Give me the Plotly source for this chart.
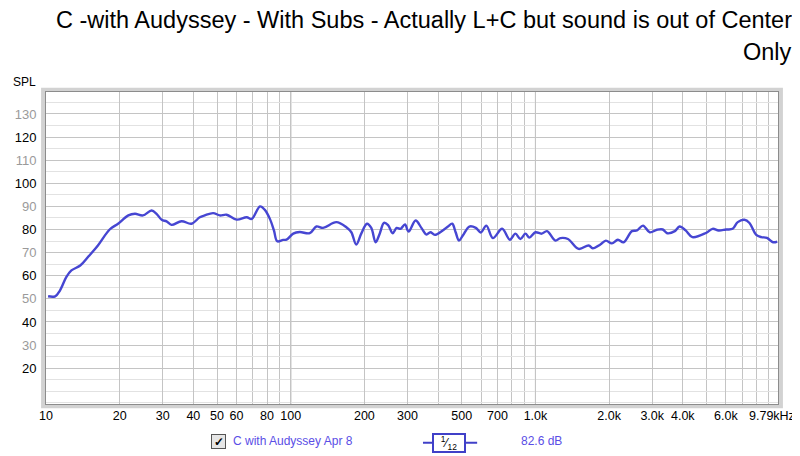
import plotly.graph_objects as go

# Frequency response readings (Hz, dB SPL), 1/12 octave smoothing
freq_hz = [10.2, 10.9, 11.4, 12.1, 12.7, 13.8, 14.9, 16.3, 18.2, 19.7,
           21.7, 23.1, 24.9, 27.0, 28.3, 29.7, 31.1, 32.6, 35.8, 39.3,
           42.5, 44.5, 48.2, 51.3, 54.7, 60.1, 66.1, 69.3, 74.9, 78.4,
           82.2, 85.4, 88.1, 93.1, 96.1, 102.4, 108.8, 119.6, 127.3, 135.6,
           153.6, 168.8, 176.9, 185.3, 194.2, 204.9, 213.4, 222.3, 231, 240.5,
           250, 261, 271, 281, 293, 303, 323.9, 342, 358.6, 372,
           388, 418, 439, 457, 472, 487, 505, 537, 571, 598,
           630, 670, 731, 786, 828, 868, 910, 945, 1000, 1060,
           1115, 1207, 1265, 1358, 1502, 1650, 1714, 1842, 1940, 2052,
           2172, 2291, 2479, 2600, 2752, 2931, 3142, 3314, 3453, 3712,
           3881, 4110, 4380, 4974, 5296, 5606, 6011, 6397, 6709, 7148,
           7494, 7985, 8376, 8832, 9358, 9728]
spl_db = [51.1, 51.1, 53.6, 59.4, 62.3, 64.4, 68.3, 73.1, 80.0, 82.5,
          86.1, 86.8, 86.1, 88.2, 86.8, 84.2, 83.5, 82.0, 83.6, 82.5,
          85.3, 86.1, 87.1, 86.1, 86.4, 84.3, 85.3, 84.6, 90.0, 88.5,
          84.6, 79.6, 74.9, 75.5, 75.6, 78.2, 78.9, 78.4, 81.3, 80.7,
          83.2, 81.0, 78.8, 73.5, 78.2, 82.5, 80.7, 74.5, 78.2, 82.9,
          81.9, 78.4, 80.7, 80.3, 82.2, 79.1, 83.9, 80.7, 77.8, 78.8,
          77.7, 79.6, 81.3, 82.5, 78.8, 75.2, 77.4, 81.3, 80.7, 78.7,
          81.7, 76.3, 80.3, 75.6, 78.2, 75.9, 78.2, 76.5, 78.8, 78.2,
          79.3, 75.2, 76.3, 75.9, 71.6, 73.1, 71.9, 73.5, 75.2, 74.0,
          75.6, 74.5, 79.3, 79.6, 81.7, 78.8, 79.9, 80.0, 78.4, 79.3,
          81.3, 79.6, 76.7, 78.5, 80.3, 79.6, 80.0, 80.3, 83.2, 84.2,
          82.8, 77.7, 76.7, 76.4, 74.5, 74.8]

x_tick_vals = [10, 20, 30, 40, 50, 60, 80, 100, 200, 300, 500, 700,
               1000, 2000, 3000, 4000, 6000]
x_tick_text = ['10', '20', '30', '40', '50', '60', '80', '100', '200', '300',
               '500', '700', '1.0k', '2.0k', '3.0k', '4.0k', '6.0k']
x_end_label = '9.79kHz'
x_minor_vals = [70, 90, 400, 600, 800, 900, 5000, 7000, 8000, 9000]
y_tick_vals = [20, 30, 40, 50, 60, 70, 80, 90, 100, 110, 120, 130]

title_line1 = 'C -with Audyssey - With Subs - Actually L+C but sound is out of Center'
title_line2 = 'Only'
legend_name = 'C with Audyssey Apr 8'
legend_level = '82.6 dB'

curve_color = '#4646d2'
label_color = '#5a4ee6'

y_tick_text = []
for v in y_tick_vals:
    col = '#000000' if v % 20 == 0 else '#9a9a9a'
    y_tick_text.append('<span style="color:%s">%d</span>' % (col, v))

fig = go.Figure()
fig.add_trace(go.Scatter(x=freq_hz, y=spl_db, mode='lines',
                         line=dict(color=curve_color, width=2.4,
                                   shape='spline', smoothing=1.0),
                         showlegend=False, hoverinfo='x+y'))

# darker decade lines
for f in [100, 1000]:
    fig.add_vline(x=f, line=dict(color='#808080', width=1), layer='below')

# soft shadow frame round the plot area
fig.add_shape(type='rect', xref='paper', yref='paper', x0=-0.004, x1=1.004,
              y0=-0.007, y1=1.007, line=dict(color='#d2d2d2', width=4),
              layer='below')

# the page body adds an 8px margin, so the figure is 8px smaller on each side
fig.update_layout(
    width=792, height=448,
    margin=dict(l=38, r=22, t=84, b=52),
    paper_bgcolor='white', plot_bgcolor='white',
    font=dict(family='Liberation Sans, Arial, sans-serif', color='#000000'),
    xaxis=dict(type='log', range=[1, 3.9912], tickmode='array',
               tickvals=x_tick_vals, ticktext=x_tick_text,
               tickfont=dict(size=12.5), ticks='', showgrid=True,
               gridcolor='#c4c4c4', gridwidth=1, zeroline=False,
               showline=True, linecolor='#8c8c8c', linewidth=1, mirror=True,
               minor=dict(tickmode='array', tickvals=x_minor_vals,
                          showgrid=True, gridcolor='#c4c4c4', ticks=''),
               automargin=False, fixedrange=True),
    yaxis=dict(range=[4.5, 139.5], tickmode='array', tickvals=y_tick_vals,
               ticktext=y_tick_text, tickfont=dict(size=13), ticks='',
               ticklabelstandoff=6, showgrid=True, gridcolor='#c4c4c4',
               zeroline=False, showline=True, linecolor='#8c8c8c',
               linewidth=1, mirror=True,
               minor=dict(dtick=5, showgrid=True, gridcolor='#e2e2e2',
                          ticks=''),
               automargin=False, fixedrange=True),
)

# last frequency label sits at the right edge, pulled in a little
fig.add_annotation(text=x_end_label, xref='paper', yref='paper', x=0.9918,
                   y=-0.0385, xanchor='center', yanchor='middle',
                   showarrow=False, font=dict(size=12.5, color='#000000'))

# title (right aligned, two lines)
fig.add_annotation(text=title_line1, xref='paper', yref='paper', x=1.0219,
                   y=1.2308, xanchor='right', yanchor='middle',
                   showarrow=False, font=dict(size=23.5, color='#000000'))
fig.add_annotation(text=title_line2, xref='paper', yref='paper', x=1.0219,
                   y=1.128, xanchor='right', yanchor='middle',
                   showarrow=False, font=dict(size=23.5, color='#000000'))

# axis caption
fig.add_annotation(text='SPL', xref='paper', yref='paper', x=-0.0109,
                   y=1.032, xanchor='right', yanchor='middle',
                   showarrow=False, font=dict(size=12, color='#000000'))

# legend row below the chart
fig.add_annotation(text='<b>✓</b>', xref='paper', yref='paper', x=0.235,
                   y=-0.1186, xanchor='center', yanchor='middle',
                   showarrow=False, font=dict(size=12, color='#000000'),
                   bgcolor='#e6e6e6', bordercolor='#555555', borderwidth=1,
                   borderpad=0, width=13, height=13)
fig.add_annotation(text=legend_name, xref='paper', yref='paper', x=0.2527,
                   y=-0.1186, xanchor='left', yanchor='middle',
                   showarrow=False, font=dict(size=12, color=label_color))
fig.add_shape(type='line', xref='paper', yref='paper', x0=0.515, x1=0.589,
              y0=-0.124, y1=-0.124, line=dict(color='#4040c8', width=2))
fig.add_annotation(text='<sup>1</sup>⁄<sub>12</sub>', xref='paper',
                   yref='paper', x=0.5505, y=-0.124, xanchor='center',
                   yanchor='middle', showarrow=False,
                   font=dict(size=12, color='#000000'), bgcolor='white',
                   bordercolor='#4040c8', borderwidth=2, borderpad=1,
                   width=28, height=14)
fig.add_annotation(text=legend_level, xref='paper', yref='paper', x=0.646,
                   y=-0.1186, xanchor='left', yanchor='middle',
                   showarrow=False, font=dict(size=12, color=label_color))

fig.write_html("out.html")
